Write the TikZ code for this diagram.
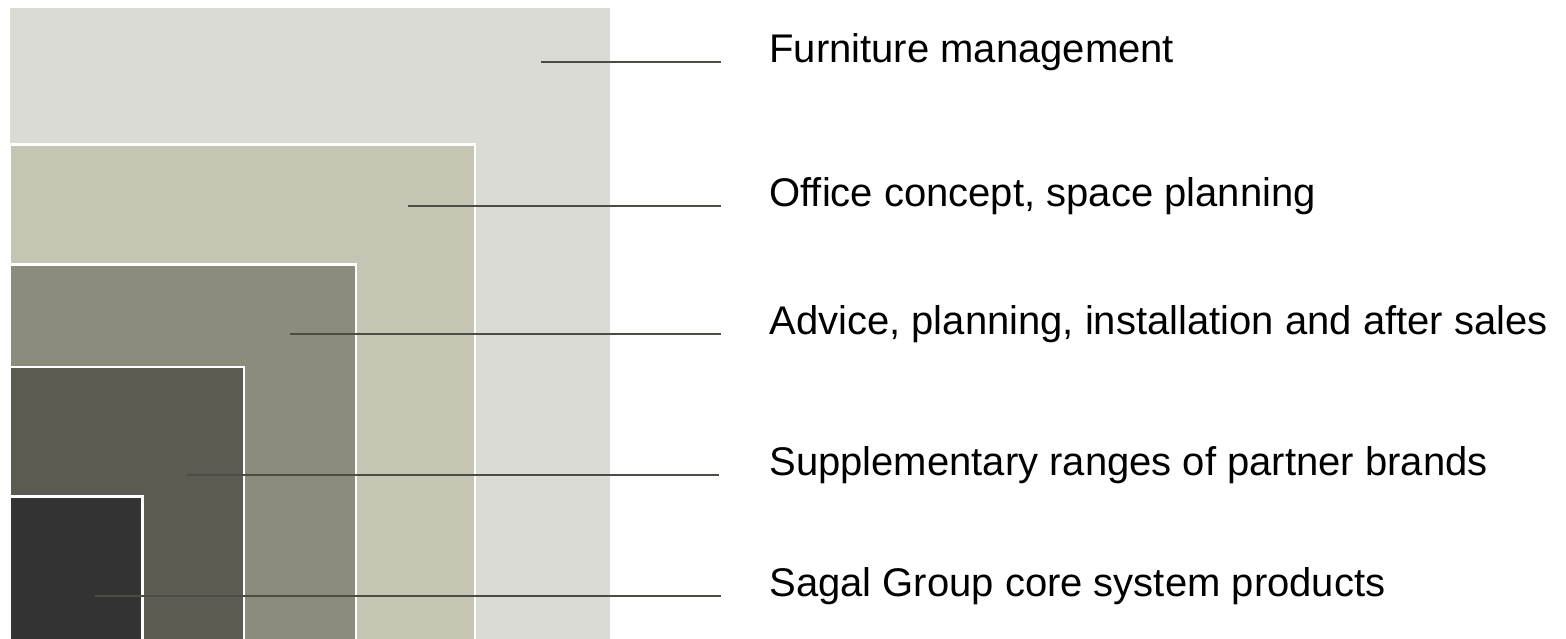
\documentclass[tikz,border=0pt]{standalone}
\usepackage{fontspec}
\setmainfont{Liberation Sans}
\definecolor{cA}{HTML}{DADBD5}
\definecolor{cB}{HTML}{C6C5B3}
\definecolor{cC}{HTML}{8C8B7D}
\definecolor{cD}{HTML}{5B5B52}
\definecolor{cE}{HTML}{333333}
\definecolor{lineC}{HTML}{4D4C44}
\begin{document}
\begin{tikzpicture}[x=0.5pt,y=-0.5pt,
  layer/.style={draw=white,line width=1.25pt},
  leader/.style={draw=lineC,line width=1pt},
  lbl/.style={anchor=base west,inner sep=0pt,font=\fontsize{20pt}{24pt}\selectfont,text=black}]
\useasboundingbox (0,0) rectangle (1566,638);
\fill[white] (0,0) rectangle (1566,638);
\fill[cA] (10,8) rectangle (610,640);
\path[layer,fill=cB] (10,144.5) rectangle (475,645);
\path[layer,fill=cC] (10,264.5) rectangle (356,645);
\path[layer,fill=cD] (10,367) rectangle (244,645);
\path[layer,fill=cE] (10,496.5) rectangle (142.5,645);
\node[lbl] (t1) at (769,62) {Furniture management};
\node[lbl] (t2) at (769,206) {Office concept, space planning};
\node[lbl] (t3) at (769,334) {Advice, planning, installation and after sales};
\node[lbl] (t4) at (769,475) {Supplementary ranges of partner brands};
\node[lbl] (t5) at (769,596) {Sagal Group core system products};
\coordinate (s1) at (541,62);  \coordinate (e1) at (721,62);
\coordinate (s2) at (408,206); \coordinate (e2) at (721,206);
\coordinate (s3) at (290,334); \coordinate (e3) at (721,334);
\coordinate (s4) at (187,475); \coordinate (e4) at (719,475);
\coordinate (s5) at (95,596);  \coordinate (e5) at (721,596);
\draw[leader] (s1) -- (e1);
\draw[leader] (s2) -- (e2);
\draw[leader] (s3) -- (e3);
\draw[leader] (s4) -- (e4);
\draw[leader] (s5) -- (e5);
\end{tikzpicture}
\end{document}
